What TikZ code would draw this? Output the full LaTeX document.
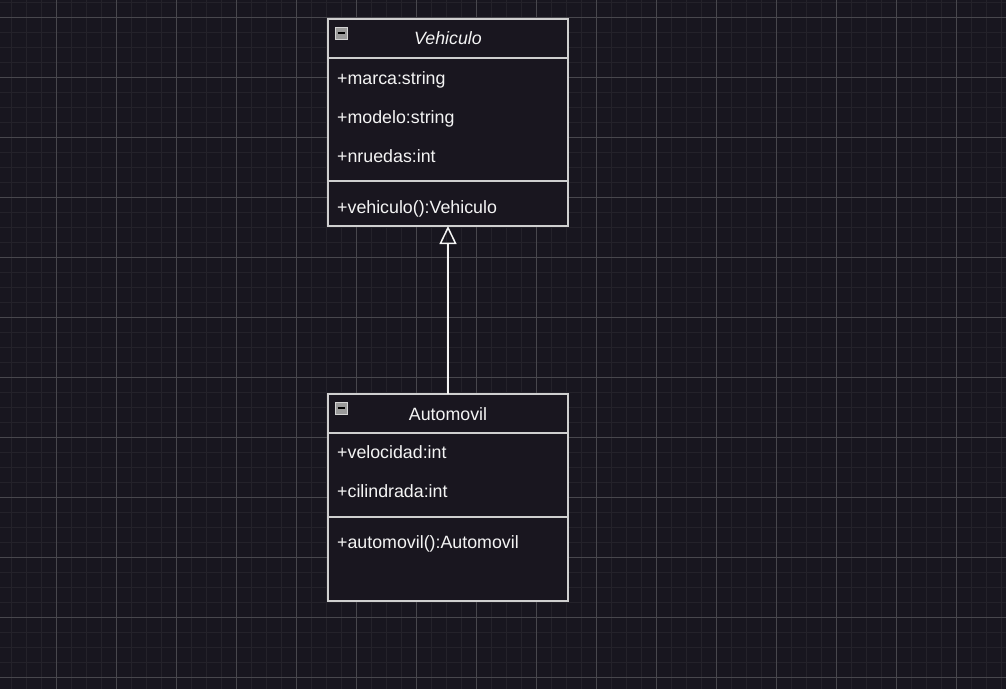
\documentclass[tikz,border=0pt]{standalone}
\usepackage{fontspec}
\setmainfont{Liberation Sans}
\usetikzlibrary{arrows.meta}
\definecolor{bg}{HTML}{18161F}
\definecolor{gridminor}{HTML}{24222A}
\definecolor{gridmajor}{HTML}{48474D}
\definecolor{boxfill}{HTML}{19161F}
\definecolor{boxline}{HTML}{CFCFCF}
\definecolor{txt}{HTML}{F4F4F4}
\definecolor{iconfill}{HTML}{9A9A9A}
\definecolor{iconline}{HTML}{D4D4D4}
\begin{document}
\begin{tikzpicture}[x=1pt,y=-1pt,
  umlbox/.style={draw=boxline, fill=boxfill, line width=1.6pt, inner sep=0pt,
    outer sep=0pt, anchor=north west, minimum width=240pt},
  sepline/.style={draw=boxline, line width=1.6pt},
  member/.style={anchor=base west, inner sep=0pt, text=txt,
    font=\fontsize{17.8}{20}\selectfont},
  umltitle/.style={anchor=base, inner sep=0pt, text=txt,
    font=\fontsize{17.8}{20}\selectfont},
  iconbox/.style={draw=iconline, fill=iconfill, line width=0.8pt, inner sep=0pt,
    outer sep=0pt, anchor=north west, minimum width=12pt, minimum height=12pt},
  iconminus/.style={draw=black, line width=1.6pt},
  inherit/.style={draw=txt, line width=1.5pt,
    -{Triangle[open, length=18pt, width=17pt, line width=1.5pt]}}
]
\useasboundingbox (0,0) rectangle (1006,689);
\fill[bg] (0,0) rectangle (1006,689);
% grid
\foreach \x in {11,26,...,1006} \draw[gridminor, line width=1pt] (\x,0) -- (\x,689);
\foreach \y in {2,17,...,689} \draw[gridminor, line width=1pt] (0,\y) -- (1006,\y);
\foreach \x in {56,116,...,1006} \draw[gridmajor, line width=1pt] (\x,0) -- (\x,689);
\foreach \y in {17,77,...,689} \draw[gridmajor, line width=1pt] (0,\y) -- (1006,\y);

% Vehiculo class
\node[umlbox, minimum height=207pt] (veh) at (328,19) {};
\draw[sepline] (veh.north west) ++(0,39) -- ++(240,0);
\draw[sepline] (veh.north west) ++(0,162) -- ++(240,0);
\node[iconbox] (vehicon) at (335,27) {};
\draw[iconminus] (vehicon.center) ++(-3.5,0) -- ++(7,0);
\node[umltitle, font=\fontsize{17.8}{20}\selectfont\itshape] (vehtitle) at (448,44) {Vehiculo};
\node[member] (vehA) at (337,84) {+marca:string};
\node[member] (vehB) at (337,123) {+modelo:string};
\node[member] (vehC) at (337,162) {+nruedas:int};
\node[member] (vehM) at (337,213) {+vehiculo():Vehiculo};

% Automovil class
\node[umlbox, minimum height=207pt] (auto) at (328,394) {};
\draw[sepline] (auto.north west) ++(0,39) -- ++(240,0);
\draw[sepline] (auto.north west) ++(0,123) -- ++(240,0);
\node[iconbox] (autoicon) at (335,402) {};
\draw[iconminus] (autoicon.center) ++(-3.5,0) -- ++(7,0);
\node[umltitle] (autotitle) at (448,420) {Automovil};
\node[member] (autoA) at (337,458) {+velocidad:int};
\node[member] (autoB) at (337,497) {+cilindrada:int};
\node[member] (autoM) at (337,548) {+automovil():Automovil};

% inheritance
\draw[inherit] (auto.north) -- (veh.south);
\end{tikzpicture}
\end{document}
